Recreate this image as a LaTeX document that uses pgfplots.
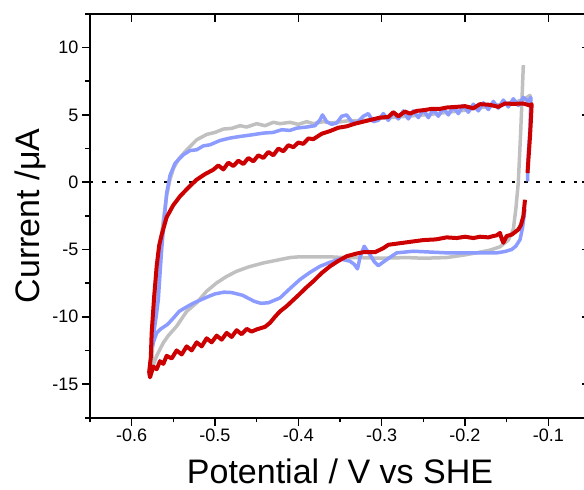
\documentclass[border=0pt]{standalone}
\usepackage{fontspec}
\setmainfont{Liberation Sans}
\usepackage{pgfplots}
\pgfplotsset{compat=1.18}

\definecolor{cvgray}{RGB}{192,192,192}
\definecolor{cvblue}{RGB}{140,155,255}
\definecolor{cvred}{RGB}{204,0,0}

\pgfplotsset{
  cvframe/.style={
    scale only axis, width=500pt, height=403.7pt,
    xmin=-0.65, xmax=-0.05, ymin=-17.5, ymax=12.5,
    xtick={-0.6,-0.5,...,-0.1}, ytick={-15,-10,...,10},
    axis line style={line width=1.6pt},
    every tick/.style={line width=1.6pt, black},
    major tick length=8pt, minor tick length=4.5pt,
    /pgf/number format/assume math mode=true,
    tick label style={font=\fontsize{18}{21}\selectfont},
  },
}

\begin{document}
\begin{tikzpicture}
\useasboundingbox (-90pt,-72.3pt) rectangle (494pt,417.7pt);

% top and right: major ticks only, pointing in
\begin{axis}[cvframe, xtick pos=right, ytick pos=right, tick align=inside,
  xticklabels={}, yticklabels={}]
  \addplot[draw=none] coordinates {(-0.6,0)};
\end{axis}

\begin{axis}[cvframe, xtick pos=left, ytick pos=left, tick align=outside,
  minor xtick={-0.65,-0.55,...,-0.05},
  minor ytick={-17.5,-12.5,...,12.5},
  xlabel={Potential / V vs SHE},
  ylabel={Current /μA},
  label style={font=\fontsize{34}{40}\selectfont},
  xlabel style={at={(axis description cs:0.5,-0.1635)}, anchor=base},
  ylabel style={at={(axis description cs:-0.1014,0.5)}, anchor=base},
]

\addplot[black, line width=2.5pt, dash pattern=on 3.5pt off 8.9pt]
  coordinates {(-0.65,0) (-0.05,0)};

% grey
\addplot[cvgray, line width=3.5pt, line join=round] coordinates {
(-0.130,8.7) (-0.133,4.0) (-0.136,0.0) (-0.139,-2.0) (-0.142,-3.5)
(-0.148,-4.3) (-0.158,-4.8) (-0.170,-5.05) (-0.182,-5.2) (-0.200,-5.4)
(-0.222,-5.6) (-0.250,-5.65) (-0.270,-5.6) (-0.302,-5.65) (-0.330,-5.6)
(-0.346,-5.6) (-0.360,-5.55) (-0.378,-5.55) (-0.400,-5.55) (-0.410,-5.6)
(-0.422,-5.75) (-0.442,-6.0) (-0.460,-6.3) (-0.474,-6.62) (-0.486,-7.0)
(-0.498,-7.48) (-0.510,-8.1) (-0.522,-8.96) (-0.534,-9.6) (-0.546,-10.7)
(-0.556,-11.4) (-0.562,-11.93) (-0.570,-12.9) (-0.576,-13.9)
(-0.576,-13.5) (-0.573,-10.0) (-0.570,-7.5) (-0.566,-5.0) (-0.562,-2.8)
(-0.558,-1.0) (-0.554,0.2) (-0.550,1.0) (-0.544,1.7) (-0.534,2.4)
(-0.522,3.15) (-0.510,3.55) (-0.500,3.7) (-0.490,3.95) (-0.480,4.0)
(-0.470,4.2) (-0.462,4.1) (-0.450,4.35) (-0.440,4.2) (-0.430,4.45)
(-0.422,4.35) (-0.410,4.45) (-0.400,4.3) (-0.390,4.5) (-0.382,4.35)
(-0.370,4.5) (-0.360,4.4) (-0.342,4.55) (-0.320,4.6) (-0.300,4.75)
(-0.280,4.85) (-0.260,4.95) (-0.240,5.05) (-0.220,5.2) (-0.200,5.35)
(-0.180,5.55) (-0.160,5.75) (-0.140,5.95) (-0.128,6.2) (-0.122,6.45)
(-0.121,6.0)
};

% blue
\addplot[cvblue, line width=3.5pt, line join=round] coordinates {
(-0.128,-2.0) (-0.131,-3.4) (-0.134,-4.27) (-0.139,-4.75) (-0.144,-5.0)
(-0.152,-5.15) (-0.162,-5.25) (-0.186,-5.25) (-0.222,-5.25) (-0.262,-5.13)
(-0.282,-5.25) (-0.294,-5.75) (-0.304,-6.2) (-0.309,-5.9) (-0.314,-5.38)
(-0.321,-4.76) (-0.326,-5.6) (-0.329,-6.44) (-0.333,-6.1) (-0.338,-5.87)
(-0.350,-5.7) (-0.362,-5.95) (-0.374,-6.25) (-0.386,-6.7) (-0.398,-7.23)
(-0.410,-7.9) (-0.422,-8.6) (-0.436,-8.96) (-0.445,-9.0) (-0.453,-8.85)
(-0.467,-8.4) (-0.480,-8.2) (-0.489,-8.17) (-0.500,-8.3) (-0.507,-8.47)
(-0.525,-8.96) (-0.535,-9.3) (-0.543,-9.6) (-0.550,-10.1) (-0.557,-10.57)
(-0.565,-10.9) (-0.570,-11.2) (-0.574,-11.9) (-0.575,-12.2)
(-0.573,-11.0) (-0.570,-9.7) (-0.568,-8.7) (-0.566,-6.8) (-0.564,-5.0)
(-0.561,-2.8) (-0.558,-0.8) (-0.554,0.5) (-0.548,1.4) (-0.538,2.04)
(-0.530,2.35) (-0.522,2.41) (-0.514,2.7) (-0.506,2.78) (-0.494,3.1)
(-0.482,3.28) (-0.470,3.4) (-0.458,3.5) (-0.442,3.65) (-0.430,3.7)
(-0.420,3.9) (-0.410,3.85) (-0.402,4.02) (-0.390,4.1) (-0.380,4.2)
(-0.374,4.64) (-0.371,5.0) (-0.366,4.5) (-0.360,4.3) (-0.354,4.4)
(-0.348,4.9) (-0.342,5.0) (-0.336,4.5) (-0.330,4.4) (-0.322,4.9)
(-0.316,5.1) (-0.310,4.5) (-0.304,4.6) (-0.298,5.1) (-0.292,4.6)
(-0.286,5.2) (-0.280,4.7) (-0.274,5.3) (-0.268,4.7) (-0.262,5.3)
(-0.256,4.8) (-0.250,5.4) (-0.244,4.8) (-0.238,5.4) (-0.232,4.9)
(-0.226,5.5) (-0.220,5.0) (-0.214,5.6) (-0.208,5.1) (-0.202,5.7)
(-0.196,5.2) (-0.190,5.8) (-0.184,5.3) (-0.178,5.9) (-0.172,5.4)
(-0.166,6.0) (-0.160,5.5) (-0.154,6.1) (-0.148,5.6) (-0.142,6.2)
(-0.136,5.7) (-0.130,6.3) (-0.124,6.0) (-0.121,6.3) (-0.122,4.0)
(-0.124,2.0) (-0.125,0.06)
};

% red
\addplot[cvred, line width=4pt, line join=round] coordinates {
(-0.128,-1.3) (-0.130,-2.54) (-0.133,-3.2) (-0.136,-3.52) (-0.144,-3.9)
(-0.150,-4.0) (-0.154,-4.5) (-0.156,-4.2) (-0.158,-3.77) (-0.162,-3.95)
(-0.166,-4.0) (-0.172,-4.1) (-0.182,-4.05) (-0.190,-4.15) (-0.200,-4.05)
(-0.210,-4.15) (-0.222,-4.1) (-0.235,-4.25) (-0.250,-4.3) (-0.262,-4.4)
(-0.280,-4.55) (-0.292,-4.65) (-0.298,-4.9) (-0.308,-5.2) (-0.322,-5.2)
(-0.330,-5.3) (-0.342,-5.5) (-0.352,-5.85) (-0.362,-6.25) (-0.372,-6.75)
(-0.382,-7.36) (-0.390,-7.8) (-0.400,-8.4) (-0.414,-9.21) (-0.422,-9.6)
(-0.428,-10.0) (-0.434,-10.45) (-0.440,-10.75) (-0.450,-10.94)
(-0.456,-11.1) (-0.462,-10.9) (-0.468,-11.3) (-0.474,-11.0) (-0.480,-11.5)
(-0.486,-11.2) (-0.492,-11.7) (-0.498,-11.4) (-0.504,-11.9) (-0.510,-11.6)
(-0.516,-12.2) (-0.522,-11.9) (-0.528,-12.5) (-0.534,-12.2) (-0.540,-12.8)
(-0.546,-12.5) (-0.552,-13.1) (-0.558,-12.9) (-0.562,-13.5) (-0.566,-13.3)
(-0.570,-13.9) (-0.574,-13.7) (-0.578,-14.5) (-0.579,-14.1)
(-0.577,-13.0) (-0.576,-11.2) (-0.573,-8.5) (-0.570,-6.25) (-0.567,-4.7)
(-0.564,-3.9) (-0.558,-2.6) (-0.550,-1.7) (-0.542,-1.05) (-0.532,-0.4)
(-0.522,0.19) (-0.512,0.6) (-0.502,0.93)
(-0.496,1.25) (-0.490,0.95) (-0.484,1.45) (-0.478,1.2) (-0.472,1.6)
(-0.466,1.35) (-0.460,1.8) (-0.454,1.55) (-0.448,2.0) (-0.442,1.8)
(-0.436,2.25) (-0.430,2.0) (-0.424,2.5) (-0.418,2.3) (-0.412,2.75)
(-0.406,2.6) (-0.400,2.95) (-0.394,2.85) (-0.388,3.25) (-0.382,3.2)
(-0.372,3.6) (-0.362,3.8) (-0.352,4.05) (-0.342,4.15) (-0.332,4.35)
(-0.322,4.5) (-0.312,4.65) (-0.302,4.8) (-0.292,4.85) (-0.286,5.2)
(-0.280,4.9) (-0.272,5.25) (-0.266,5.1) (-0.258,5.3) (-0.250,5.35)
(-0.240,5.45) (-0.230,5.45) (-0.222,5.55) (-0.210,5.6) (-0.200,5.65)
(-0.190,5.5) (-0.182,5.8) (-0.170,5.75) (-0.160,5.6) (-0.152,5.85)
(-0.142,5.82) (-0.130,5.85) (-0.122,5.7) (-0.120,5.8) (-0.121,4.5)
(-0.122,3.4) (-0.125,0.68)
};
\end{axis}
\end{tikzpicture}
\end{document}
